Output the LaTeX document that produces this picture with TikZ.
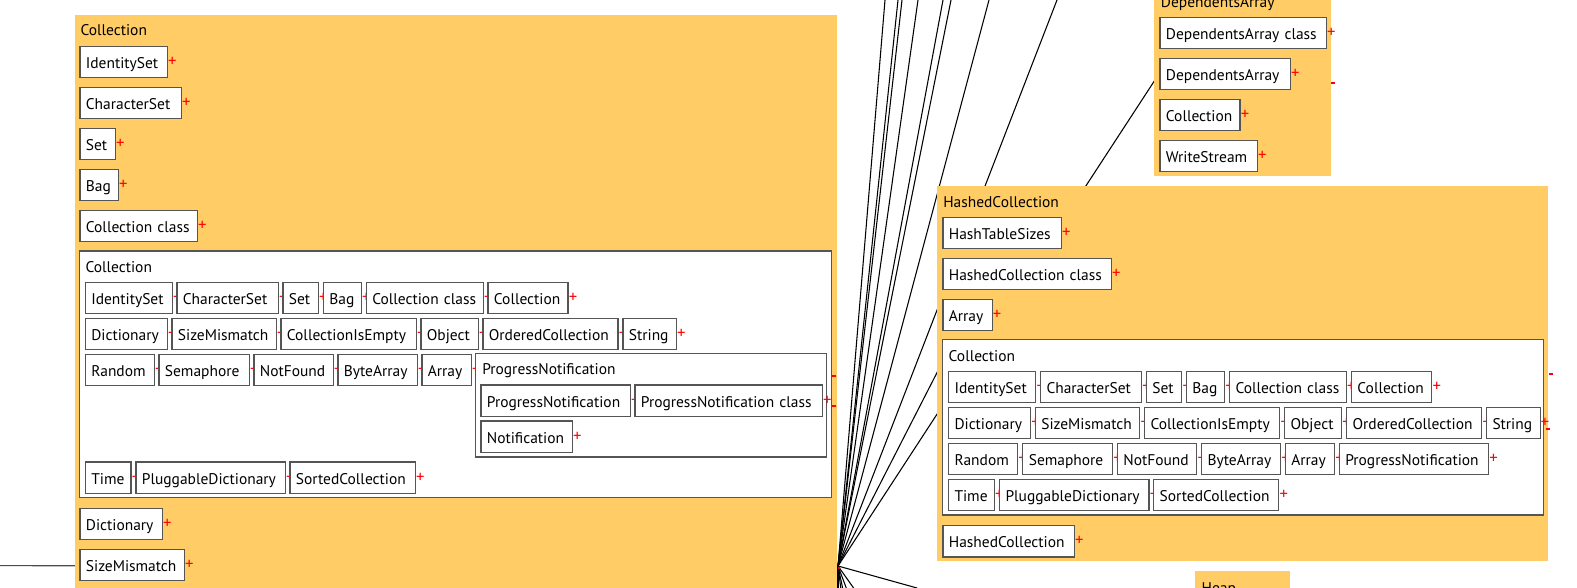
\documentclass[tikz,border=0pt]{standalone}
\usepackage{fontspec}
\newfontfamily\lbfam{PT Sans}
\newcommand{\lbfont}{\lbfam\fontsize{11.6}{14}\selectfont}
\newcommand{\plusfont}{\lbfam\fontsize{12.5}{12}\selectfont}
\definecolor{orangebg}{RGB}{255,204,102}
\definecolor{bordc}{RGB}{85,85,85}
\definecolor{plusred}{RGB}{255,0,0}
\tikzset{
  bw/.code={\pgfmathsetlengthmacro\bwlen{(#1-12)*0.75pt}\tikzset{text width=\bwlen}},
  plusst/.style={text=plusred, font=\plusfont, inner sep=0pt},
  leaf/.style={draw=bordc, fill=white, line width=0.9pt, anchor=north west,
    minimum height=23.6pt, inner xsep=4.5pt, inner ysep=0pt,
    text height=10.6pt, text depth=1pt, align=left, font=\lbfont,
    label distance=0.3pt, label={[plusst]east:+}},
  title/.style={anchor=base west, inner sep=0pt, font=\lbfont},
  group/.style={fill=orangebg, draw=none},
  cont/.style={fill=white, draw=bordc, line width=0.9pt},
  wire/.style={draw=black, line width=0.8pt},
  redmark/.style={draw=plusred, line width=0.8pt},
}
\newcommand{\leafnode}[5]{\node[leaf, bw=#4] (#1) at (#2,#3) {\mbox{#5}};}
\begin{document}
\begin{tikzpicture}[x=0.75pt,y=-0.75pt]
\useasboundingbox (0,0) rectangle (1577,588);
\clip (0,0) rectangle (1577,588);
% ---------- wires (behind everything) ----------
\coordinate (hub) at (838,566);
\coordinate (lft) at (0,565.7);
\foreach \tx [count=\i] in {885,898,902,918,943,951,989,1057}{\coordinate (top\i) at (\tx,0);}
\coordinate (daend) at (1154.3,81);
\coordinate (hcin) at (945,357);
\foreach \bx [count=\i] in {838,841,843,847,855}{\coordinate (bot\i) at (\bx,590);}
\coordinate (bot6) at (917,588);
\draw[wire, draw=black!70] (lft) -- (hub);
\foreach \i in {1,...,8}{\draw[wire] (hub) -- (top\i);}
\draw[wire] (hub) -- (daend);
\draw[wire] (hub) -- (hcin);
\foreach \i in {1,...,6}{\draw[wire] (hub) -- (bot\i);}
% ---------- left group: Collection ----------
\path[group] (75,15) rectangle (837,600);
\node[title] (tA) at (80.3,36) {Collection};
\leafnode{a1}{79.3}{45.7}{87.4}{IdentitySet}
\leafnode{a2}{79.3}{86.7}{101.4}{CharacterSet}
\leafnode{a3}{79.3}{127.7}{35.4}{Set}
\leafnode{a4}{79.3}{168.7}{38.4}{Bag}
\leafnode{a5}{79.3}{209.7}{117.4}{Collection class}
\path[cont] (79.3,251) rectangle (831.7,497.7);
\node[title] (tB) at (85.3,272.3) {Collection};
\leafnode{b1}{84.7}{281.7}{87}{IdentitySet}
\leafnode{b2}{176.3}{281.7}{101.4}{CharacterSet}
\leafnode{b3}{282.3}{281.7}{35.4}{Set}
\leafnode{b4}{322.7}{281.7}{38}{Bag}
\leafnode{b5}{365.7}{281.7}{117}{Collection class}
\leafnode{b6}{487.3}{281.7}{80}{Collection}
\leafnode{c1}{84.7}{317.7}{82}{Dictionary}
\leafnode{c2}{171.3}{317.7}{104.4}{SizeMismatch}
\leafnode{c3}{280.3}{317.7}{135.4}{CollectionIsEmpty}
\leafnode{c4}{420.3}{317.7}{57.4}{Object}
\leafnode{c5}{482.3}{317.7}{135}{OrderedCollection}
\leafnode{c6}{622.3}{317.7}{53.4}{String}
\leafnode{d1}{84.7}{353.7}{69}{Random}
\leafnode{d2}{158.3}{353.7}{90.4}{Semaphore}
\leafnode{d3}{253.3}{353.7}{79.4}{NotFound}
\leafnode{d4}{337.3}{353.7}{79.4}{ByteArray}
\leafnode{d5}{421.3}{353.7}{49.4}{Array}
\path[cont] (475.7,353.7) rectangle (826.7,457);
\node[title] (tC) at (482,374.2) {ProgressNotification};
\leafnode{e1}{480.3}{384.3}{149.4}{ProgressNotification}
\leafnode{e2}{634.3}{384.3}{187.4}{ProgressNotification class}
\leafnode{e3}{480.3}{420.3}{91.4}{Notification}
\leafnode{f1}{84.7}{461.3}{45.6}{Time}
\leafnode{f2}{135.3}{461.3}{149.4}{PluggableDictionary}
\leafnode{f3}{289.3}{461.3}{125.4}{SortedCollection}
\leafnode{g1}{79.3}{507.7}{82.4}{Dictionary}
\leafnode{g2}{79.3}{548.7}{104.4}{SizeMismatch}
% ---------- DependentsArray group ----------
\path[group] (1154.3,-20) rectangle (1330.7,175.7);
\node[title] (tD) at (1160.7,7.3) {DependentsArray};
\leafnode{n1}{1159.3}{16.7}{166.4}{DependentsArray class}
\leafnode{n2}{1159.3}{57.7}{130.4}{DependentsArray}
\leafnode{n3}{1159.3}{98.7}{80}{Collection}
\leafnode{n4}{1159.3}{139.7}{97.4}{WriteStream}
% ---------- HashedCollection group ----------
\path[group] (937,186) rectangle (1547.5,561);
\node[title] (tE) at (943,207.3) {HashedCollection};
\leafnode{h1}{942.3}{216.7}{118.3}{HashTableSizes}
\leafnode{h2}{942.3}{257.7}{168.4}{HashedCollection class}
\leafnode{h3}{942.3}{298.7}{49.2}{Array}
\path[cont] (942.3,339.3) rectangle (1543.5,515);
\node[title] (tF) at (948.4,361) {Collection};
\leafnode{i1}{947.9}{370.7}{87.2}{IdentitySet}
\leafnode{i2}{1039.9}{370.7}{101}{CharacterSet}
\leafnode{i3}{1145.7}{370.7}{35.4}{Set}
\leafnode{i4}{1185.8}{370.7}{38}{Bag}
\leafnode{i5}{1229}{370.7}{116.6}{Collection class}
\leafnode{i6}{1350.8}{370.7}{80.3}{Collection}
\leafnode{j1}{947.9}{406.7}{82.1}{Dictionary}
\leafnode{j2}{1034.7}{406.7}{104.5}{SizeMismatch}
\leafnode{j3}{1144}{406.7}{135.1}{CollectionIsEmpty}
\leafnode{j4}{1283.9}{406.7}{56.9}{Object}
\leafnode{j5}{1346}{406.7}{135.2}{OrderedCollection}
\leafnode{j6}{1485.9}{406.7}{53.6}{String}
\leafnode{k1}{947.9}{442.7}{69.1}{Random}
\leafnode{k2}{1022.2}{442.7}{89.8}{Semaphore}
\leafnode{k3}{1116.8}{442.7}{79.4}{NotFound}
\leafnode{k4}{1201}{442.7}{79}{ByteArray}
\leafnode{k5}{1284.7}{442.7}{49.3}{Array}
\leafnode{k6}{1338.7}{442.7}{149.3}{ProgressNotification}
\leafnode{l1}{947.9}{478.7}{45.8}{Time}
\leafnode{l2}{998.9}{478.7}{149.4}{PluggableDictionary}
\leafnode{l3}{1153}{478.7}{125.2}{SortedCollection}
\leafnode{m1}{942.3}{525}{131.3}{HashedCollection}
% ---------- Heap group ----------
\path[group] (1195.3,571) rectangle (1289.5,620);
\node[title] (tG) at (1201.4,593.3) {Heap};
% ---------- small red marks ----------
\draw[redmark] (832,376) -- (836,376);
\draw[redmark] (832,406) -- (836,406);
\draw[redmark] (1549,374) -- (1553,374);
\draw[redmark] (1546,429) -- (1550,429);
\draw[redmark] (1331,83) -- (1335,83);
\fill[plusred] (839,568) circle (1pt);
\end{tikzpicture}
\end{document}
